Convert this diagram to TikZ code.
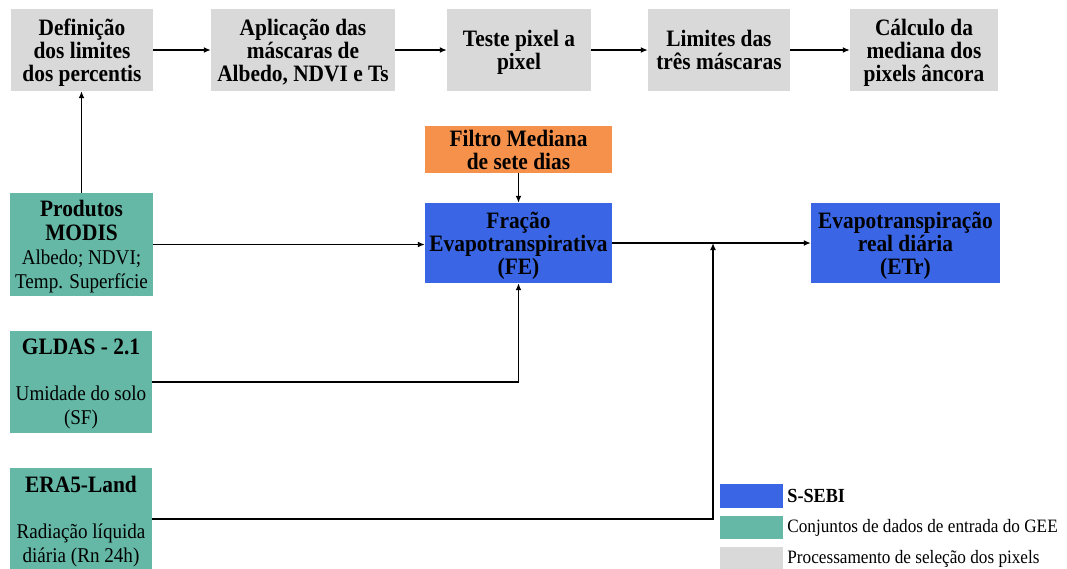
\documentclass[tikz,border=0pt]{standalone}
\usepackage{fontspec}
\setmainfont[FakeStretch=0.91]{Liberation Serif}
\usepackage{xcolor}
\usetikzlibrary{positioning,arrows.meta}
\definecolor{cinza}{HTML}{D9D9D9}
\definecolor{verde}{HTML}{64B8A5}
\definecolor{azul}{HTML}{3A66E6}
\definecolor{laranja}{HTML}{F5914B}
\newcommand{\titulo}[1]{{\bfseries\fontsize{23.5}{24}\selectfont #1}}

\begin{document}
\begin{tikzpicture}[x=1pt,y=-1pt]%
  \tikzstyle{caixa}=[rectangle,inner sep=0,align=center,text depth=0pt,font=\bfseries\fontsize{23.5}{23}\selectfont]
  \tikzstyle{proc}=[caixa,fill=cinza,minimum height=82]
  \tikzstyle{sebi}=[caixa,fill=azul,minimum height=80]
  \tikzstyle{mediana}=[caixa,fill=laranja,minimum height=47]
  \tikzstyle{dado}=[rectangle,inner sep=0,align=center,text depth=0pt,fill=verde,minimum width=142,minimum height=102,font=\fontsize{21}{24}\selectfont]
  \tikzstyle{seta}=[line width=1.6pt,-{Latex[length=7pt,width=6pt]}]
  \tikzstyle{amostra}=[rectangle,inner sep=0,minimum width=63,minimum height=23.5]
  \tikzstyle{rotulo}=[inner sep=0,anchor=west,font=\fontsize{18.9}{20}\selectfont]
  \fill[white] (0,0) rectangle (1067,568);
  \useasboundingbox (0,0) rectangle (1067,568);
  % selecao dos pixels
  \node(def)[proc,minimum width=142] at (82,50) {Definição\\dos limites\\dos percentis};
  \node(masc)[proc,minimum width=184] at (303,50) {Aplicação das\\máscaras de\\Albedo, NDVI e Ts};
  \node(teste)[proc,minimum width=144] at (519,50) {Teste pixel a\\pixel};
  \node(lim)[proc,minimum width=142] at (719,50) {Limites das\\três máscaras};
  \node(calc)[proc,minimum width=148] at (924,50) {Cálculo da\\mediana dos\\pixels âncora};
  % S-SEBI
  \node(filtro)[mediana,minimum width=187] at (518.5,149.5) {Filtro Mediana\\de sete dias};
  \node(fe)[sebi,minimum width=187] at (518.5,243) {Fração\\Evapotranspirativa\\(FE)};
  \node(etr)[sebi,minimum width=189] at (905.5,243) {Evapotranspiração\\real diária\\(ETr)};
  % dados de entrada
  \node(modis)[dado,minimum width=143,minimum height=103] at (81.5,244.5) {\titulo{Produtos}\\\titulo{MODIS}\\Albedo; NDVI;\\Temp. Superfície};
  \node(gldas)[dado] at (81,382) {\titulo{GLDAS - 2.1}\\[22pt]Umidade do solo\\(SF)};
  \node(era)[dado] at (81,519) {\titulo{ERA5-Land}\\[22pt]Radiação líquida\\diária (Rn 24h)};
  \coordinate(jun) at (713,243);
  % setas
  \draw[seta] (def) -- (masc);
  \draw[seta] (masc) -- (teste);
  \draw[seta] (teste) -- (lim);
  \draw[seta] (lim) -- (calc);
  \draw[seta] (modis.north) -- (modis.north |- def.south);
  \draw[seta] (modis.east) -- (modis.east -| fe.west);
  \draw[seta] (filtro) -- (fe);
  \draw[seta] (gldas.east) -| (fe.south);
  \draw[seta] (fe) -- (etr);
  \draw[seta] (era.east) -| (jun);
  % legenda
  \node(lg1)[amostra,fill=azul] at (751.5,496) {};
  \node(lg2)[amostra,fill=verde] at (751.5,527.5) {};
  \node(lg3)[amostra,fill=cinza] at (751.5,558.5) {};
  \node(lt1)[rotulo,right=4pt of lg1,font=\bfseries\fontsize{20}{20}\selectfont] {S-SEBI};
  \node(lt2)[rotulo,right=4pt of lg2] {Conjuntos de dados de entrada do GEE};
  \node(lt3)[rotulo,right=4pt of lg3] {Processamento de seleção dos pixels};
\end{tikzpicture}
\end{document}
